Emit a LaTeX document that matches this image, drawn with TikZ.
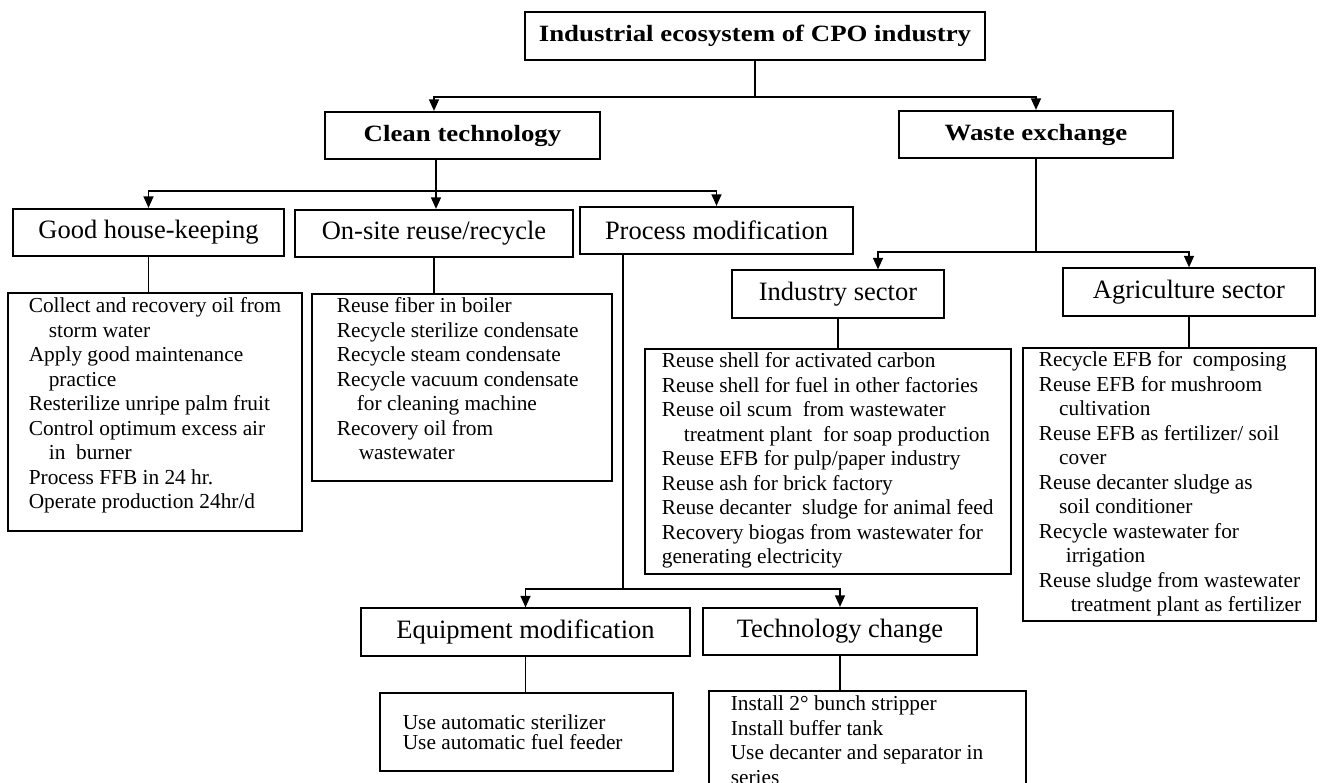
\documentclass[tikz,border=0pt]{standalone}
\usepackage{fontspec}
\setmainfont{Liberation Serif}
\newfontfamily\headfont{Liberation Serif}[FakeStretch=1.15]
\usetikzlibrary{arrows.meta}
\newdimen\pxu \pxu=0.6pt
\newcommand{\cont}[1][12pt]{\hspace*{#1}}
\newcommand{\itemlist}[5]{%
  \begin{minipage}[t][#2\pxu][t]{#1\pxu}\vspace*{#4\pxu}%
  \hspace*{#3\pxu}\begin{tabular}[t]{@{}l@{}}#5\end{tabular}\end{minipage}}
\tikzset{
  hd/.style={draw, minimum height=28.5pt, inner sep=0pt, font=\headfont\bfseries\fontsize{14}{16}\selectfont},
  lbl/.style={draw, minimum height=28.5pt, inner sep=0pt, font=\fontsize{15.9}{18}\selectfont},
  lst/.style={draw, anchor=north west, inner sep=0pt, font=\fontsize{12.8}{14.7}\selectfont},
  arr/.style={-{Triangle[length=7pt,width=6pt]}}
}
\begin{document}
\begin{tikzpicture}[x=0.6pt, y=-0.6pt, line width=1pt]
  \useasboundingbox (0,0) rectangle (1321,783);
  % headings
  \node[hd, minimum width=276pt] (top) at (755,36) {Industrial ecosystem of CPO industry};
  \node[hd, minimum width=165pt] (clean) at (462.5,135.5) {Clean technology};
  \node[hd, minimum width=164.4pt] (waste) at (1036,134.5) {Waste exchange};
  \node[lbl, minimum width=162.6pt] (gh) at (148.5,232.5) {Good house-keeping};
  \node[lbl, minimum width=166.8pt] (onsite) at (434,233.5) {On-site reuse/recycle};
  \node[lbl, minimum width=163.8pt] (procmod) at (716.5,230.5) {Process modification};
  \node[lbl, minimum width=127.2pt] (industry) at (838,294) {Industry sector};
  \node[lbl, minimum width=151.2pt] (agri) at (1189,292) {Agriculture sector};
  \node[lbl, minimum width=197.4pt] (equip) at (525.5,632) {Equipment modification};
  \node[lbl, minimum width=164.4pt] (techch) at (840,631.5) {Technology change};
  % lists
  \node[lst] (ghlist) at (7,292) {\itemlist{294}{238}{21}{3}{%
    Collect and recovery oil from\\ \cont storm water\\ Apply good maintenance\\ \cont practice\\
    Resterilize unripe palm fruit\\ Control optimum excess air\\ \cont in~ burner\\
    Process FFB in 24 hr.\\ Operate production 24hr/d}};
  \node[lst] (onsitelist) at (311,293) {\itemlist{300}{187}{25}{2}{%
    Reuse fiber in boiler\\ Recycle sterilize condensate\\ Recycle steam condensate\\
    Recycle vacuum condensate\\ \cont for cleaning machine\\ Recovery oil from\\ \cont[10pt] wastewater}};
  \node[lst] (indlist) at (644,348) {\itemlist{366}{225}{17}{2}{%
    Reuse shell for activated carbon\\ Reuse shell for fuel in other factories\\
    Reuse oil scum~ from wastewater\\ \cont[10pt] treatment plant~ for soap production\\
    Reuse EFB for pulp/paper industry\\ Reuse ash for brick factory\\
    Reuse decanter~ sludge for animal feed\\ Recovery biogas from wastewater for\\ generating electricity}};
  \node[lst] (agrilist) at (1022,347) {\itemlist{293}{273}{16}{2}{%
    Recycle EFB for~ composing\\ Reuse EFB for mushroom\\ \cont[9pt] cultivation\\
    Reuse EFB as fertilizer/ soil\\ \cont[9pt] cover\\ Reuse decanter sludge as\\ \cont[9pt] soil conditioner\\
    Recycle wastewater for\\ \cont[13pt] irrigation\\ Reuse sludge from wastewater\\ \cont[16pt] treatment plant as fertilizer}};
  \node[lst, font=\fontsize{12.8}{10.2}\selectfont] (equiplist) at (379,692) {\itemlist{293}{78}{23}{22}{%
    Use automatic sterilizer\\ Use automatic fuel feeder}};
  \node[lst] (techlist) at (708,690) {\itemlist{317}{120}{22}{3}{%
    Install 2° bunch stripper\\ Install buffer tank\\ Use decanter and separator in\\ series}};
  % tree connectors
  \coordinate (j1) at (755,97);
  \coordinate (c1) at (434,97);
  \draw (top) -- (j1);
  \draw[arr] (j1) -- (c1) -- (c1 |- clean.north);
  \draw[arr] (j1) -| (waste.north);
  \coordinate (j2) at (436,191);
  \draw (j2 |- clean.south) -- (j2);
  \draw[arr] (j2) -| (gh.north);
  \draw[arr] (j2) -- (j2 |- onsite.north);
  \draw[arr] (j2) -| (procmod.north);
  \coordinate (j3) at (1036,252);
  \coordinate (c3) at (878,252);
  \draw (waste.south) -- (j3);
  \draw[arr] (j3) -| (agri.north);
  \draw[arr] (j3) -- (c3) -- (c3 |- industry.north);
  \coordinate (j4) at (623,589);
  \draw (j4 |- procmod.south) -- (j4);
  \draw[arr] (j4) -| (equip.north);
  \draw[arr] (j4) -| (techch.north);
  % heading to list
  \draw (gh.south) -- (gh.south |- ghlist.north);
  \draw (onsite.south) -- (onsite.south |- onsitelist.north);
  \draw (industry.south) -- (industry.south |- indlist.north);
  \draw (agri.south) -- (agri.south |- agrilist.north);
  \draw (equip.south) -- (equip.south |- equiplist.north);
  \draw (techch.south) -- (techch.south |- techlist.north);
\end{tikzpicture}
\end{document}
